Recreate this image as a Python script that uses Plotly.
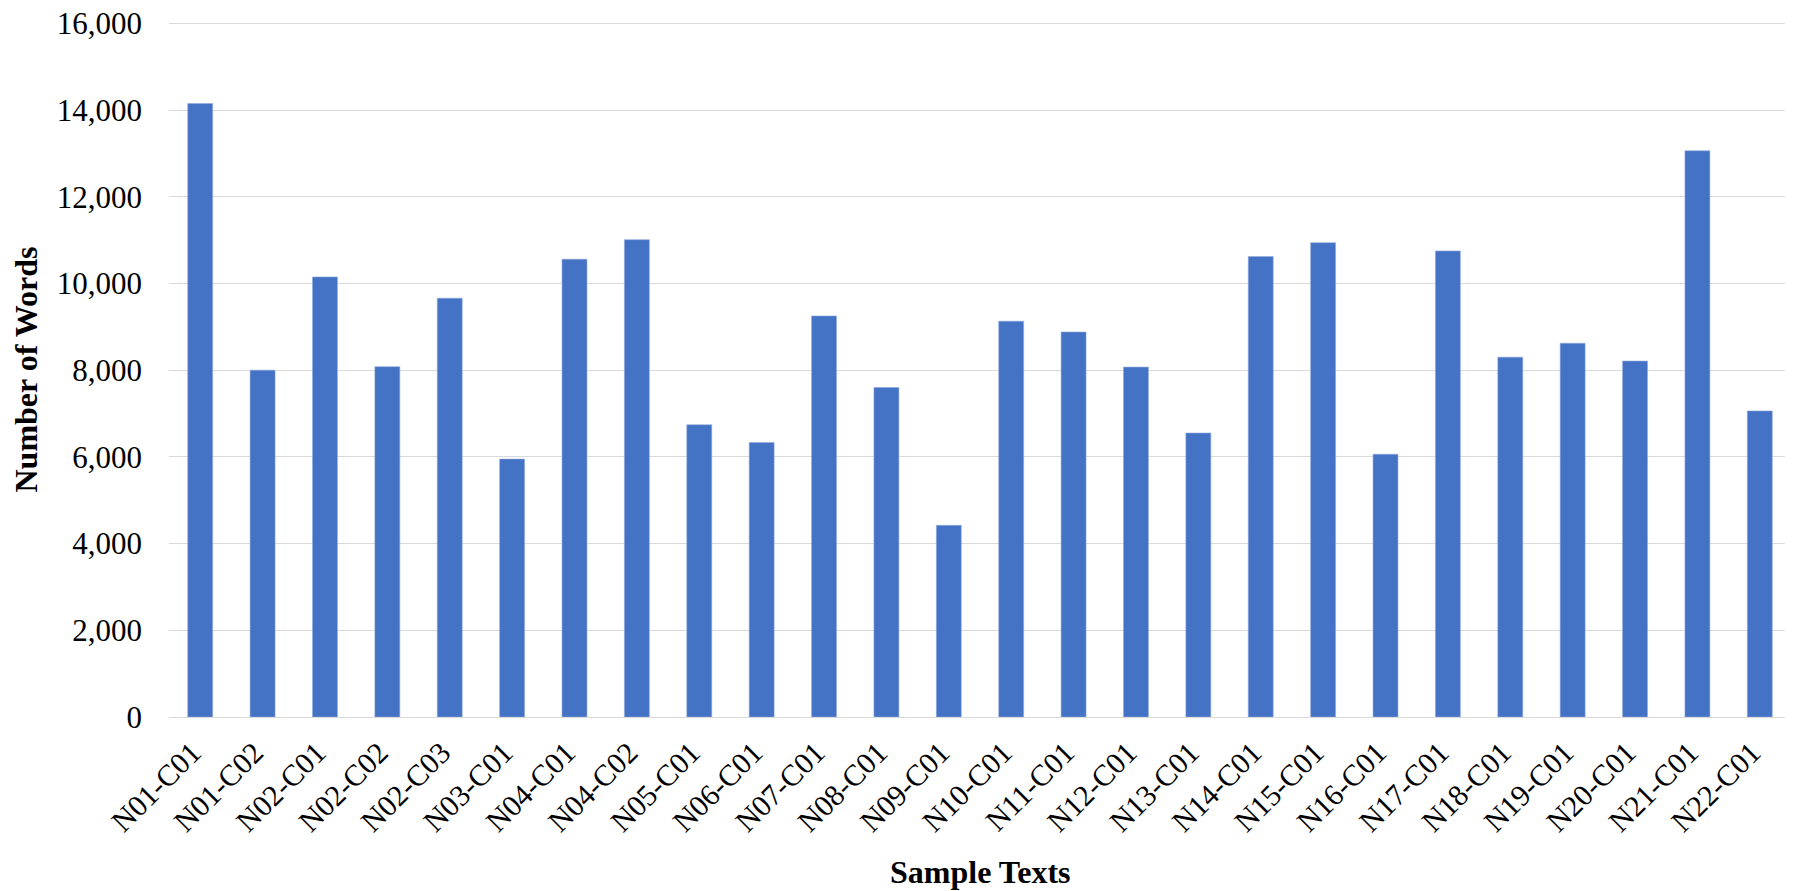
import plotly.graph_objects as go

categories = ["N01-C01", "N01-C02", "N02-C01", "N02-C02", "N02-C03", "N03-C01",
              "N04-C01", "N04-C02", "N05-C01", "N06-C01", "N07-C01", "N08-C01",
              "N09-C01", "N10-C01", "N11-C01", "N12-C01", "N13-C01", "N14-C01",
              "N15-C01", "N16-C01", "N17-C01", "N18-C01", "N19-C01", "N20-C01",
              "N21-C01", "N22-C01"]
word_counts = [14150, 8000, 10150, 8080, 9660, 5950,
               10560, 11010, 6740, 6330, 9250, 7600,
               4420, 9130, 8880, 8070, 6550, 10620,
               10940, 6060, 10750, 8300, 8620, 8210,
               13060, 7060]
y_ticks = [0, 2000, 4000, 6000, 8000, 10000, 12000, 14000, 16000]

FONT = "Liberation Serif"
W, H = 1785, 883
ML, MR, MT, MB = 161, 2, 14, 174
PW, PH = W - ML - MR, H - MT - MB

fig = go.Figure()
fig.add_trace(go.Bar(
    x=categories, y=word_counts,
    marker=dict(color="#4472C4", line=dict(color="#8faadc", width=0.6)),
    width=0.40,
))

fig.update_layout(
    width=W, height=H,
    paper_bgcolor="white", plot_bgcolor="white",
    margin=dict(l=ML, r=MR, t=MT, b=MB),
    font=dict(family=FONT, size=31, color="black"),
    showlegend=False,
    xaxis=dict(
        automargin=False,
        tickangle=-45,
        showgrid=False,
        showline=False,
        ticks="",
        ticklabelstandoff=11,
        ticklabelshift=-8,
        ticklabeloverflow="allow",
        tickfont=dict(family=FONT, size=30, color="black"),
    ),
    yaxis=dict(
        automargin=False,
        range=[0, 16030],
        tickvals=y_ticks,
        tickformat=",",
        showgrid=True,
        gridcolor="#d9d9d9",
        gridwidth=1.3,
        zeroline=True,
        zerolinecolor="#d9d9d9",
        zerolinewidth=1.3,
        showline=False,
        ticks="",
        ticklabelstandoff=26,
        ticklabeloverflow="allow",
        tickfont=dict(family=FONT, size=31, color="black"),
    ),
    annotations=[
        dict(text="<b>Sample Texts</b>", xref="paper", yref="paper",
             x=0.5, y=-(864 - (H - MB)) / PH, xanchor="center", yanchor="middle",
             showarrow=False, font=dict(family=FONT, size=32, color="black")),
        dict(text="<b>Number of Words</b>", xref="paper", yref="paper",
             x=(17 - ML) / PW, y=0.5, xanchor="center", yanchor="middle",
             textangle=-90, showarrow=False,
             font=dict(family=FONT, size=32, color="black")),
    ],
)

fig.write_html("out.html")
